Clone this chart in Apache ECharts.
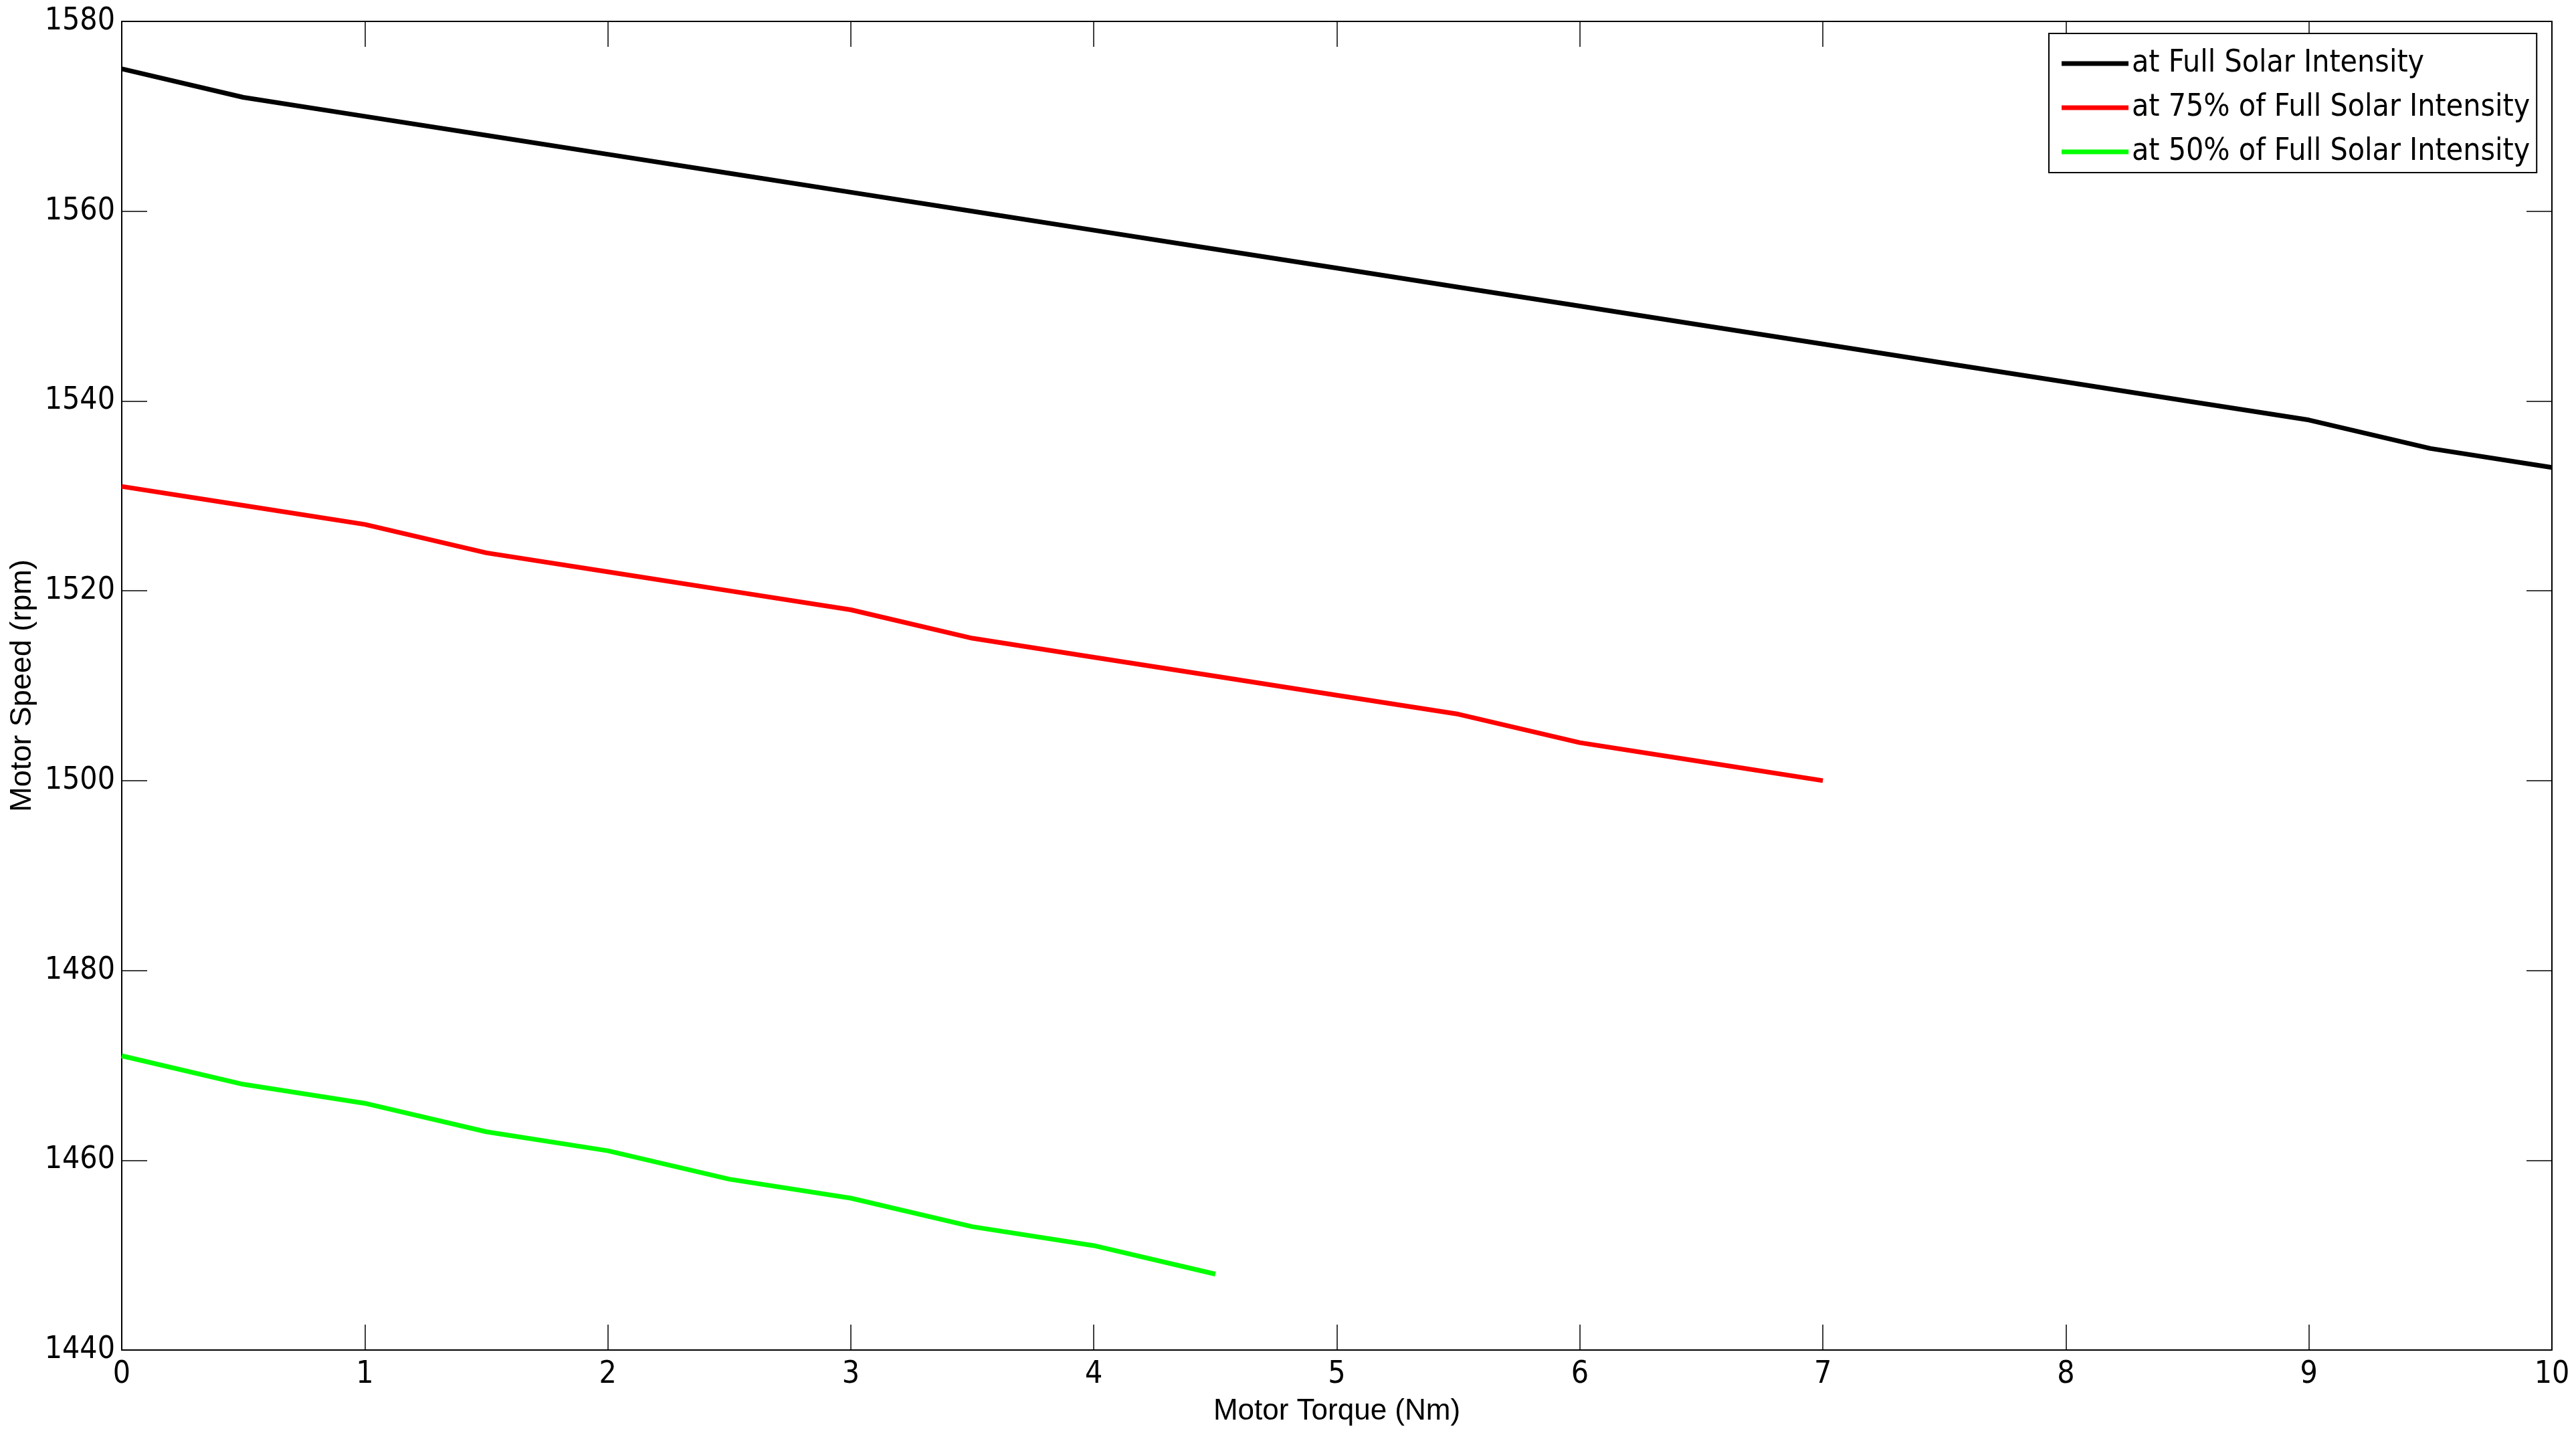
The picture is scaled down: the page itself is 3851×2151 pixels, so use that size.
<!DOCTYPE html>
<html>
<head>
<meta charset="utf-8">
<title>Motor Speed vs Motor Torque</title>
<script src="https://cdn.jsdelivr.net/npm/echarts@6/dist/echarts.min.js"></script>
<style>
  html, body { margin: 0; padding: 0; background: #fff; }
  #chart { width: 3851px; height: 2151px; }
</style>
</head>
<body>
<div id="chart"></div>
<script>
// values
var seriesNames = ['at Full Solar Intensity', 'at 75% of Full Solar Intensity', 'at 50% of Full Solar Intensity'];
var seriesColors = ['#000000', '#ff0000', '#00ff00'];

var torqueFull = [0, 0.5, 1, 1.5, 2, 2.5, 3, 3.5, 4, 4.5, 5, 5.5, 6, 6.5, 7, 7.5, 8, 8.5, 9, 9.5, 10];
var speedFull = [1575, 1572, 1570, 1568, 1566, 1564, 1562, 1560, 1558, 1556, 1554, 1552, 1550, 1548, 1546, 1544, 1542, 1540, 1538, 1535, 1533];

var torque75 = [0, 0.5, 1, 1.5, 2, 2.5, 3, 3.5, 4, 4.5, 5, 5.5, 6, 6.5, 7];
var speed75 = [1531, 1529, 1527, 1524, 1522, 1520, 1518, 1515, 1513, 1511, 1509, 1507, 1504, 1502, 1500];

var torque50 = [0, 0.5, 1, 1.5, 2, 2.5, 3, 3.5, 4, 4.5];
var speed50 = [1471, 1468, 1466, 1463, 1461, 1458, 1456, 1453, 1451, 1448];

var xMin = 0, xMax = 10, xStep = 1;
var yMin = 1440, yMax = 1580, yStep = 20;

function pairs(xs, ys) {
  var out = [];
  for (var i = 0; i < xs.length; i++) {
    out.push([xs[i], ys[i]]);
  }
  return out;
}

var tickFont = 'DejaVu Sans Condensed, DejaVu Sans, sans-serif';
var nameFont = 'Liberation Sans, Arial, sans-serif';

function axisBase(extra) {
  var a = {
    type: 'value',
    axisLine: { show: true, onZero: false, lineStyle: { color: '#000', width: 2 } },
    axisTick: { show: true, inside: true, length: 38, lineStyle: { color: '#000', width: 1.5 } },
    splitLine: { show: false }
  };
  for (var k in extra) a[k] = extra[k];
  return a;
}

function plain(v) { return String(v); }

var chart = echarts.init(document.getElementById('chart'), null, { renderer: 'canvas' });

var lineData = [pairs(torqueFull, speedFull), pairs(torque75, speed75), pairs(torque50, speed50)];
var series = [];
for (var i = 0; i < seriesNames.length; i++) {
  series.push({
    name: seriesNames[i],
    type: 'line',
    data: lineData[i],
    showSymbol: false,
    symbol: 'none',
    lineStyle: { color: seriesColors[i], width: 7 },
    itemStyle: { color: seriesColors[i] },
    animation: false
  });
}

chart.setOption({
  animation: false,
  backgroundColor: '#fff',
  grid: { left: 182, right: 36, top: 32, bottom: 133, containLabel: false, outerBoundsMode: 'none' },
  legend: {
    show: true,
    orient: 'vertical',
    left: 3063,
    top: 50,
    icon: 'rect',
    itemWidth: 100,
    itemHeight: 7,
    itemGap: 20,
    padding: [22, 10, 8, 19],
    borderColor: '#000',
    borderWidth: 2,
    backgroundColor: '#fff',
    textStyle: { fontFamily: tickFont, fontSize: 46, color: '#000', padding: [0, 0, 0, 0] },
    data: seriesNames
  },
  xAxis: [
    axisBase({
      min: xMin, max: xMax, interval: xStep, position: 'bottom',
      name: 'Motor Torque (Nm)', nameLocation: 'middle', nameGap: 70,
      nameTextStyle: { fontFamily: nameFont, fontSize: 44, color: '#000' },
      axisLabel: { show: true, margin: 14, fontFamily: tickFont, fontSize: 46, color: '#000', formatter: plain }
    }),
    axisBase({
      min: xMin, max: xMax, interval: xStep, position: 'top',
      axisLabel: { show: false }
    })
  ],
  yAxis: [
    axisBase({
      min: yMin, max: yMax, interval: yStep, position: 'left',
      name: 'Motor Speed (rpm)', nameLocation: 'middle', nameGap: 125,
      nameTextStyle: { fontFamily: nameFont, fontSize: 45, color: '#000' },
      axisLabel: { show: true, margin: 10, fontFamily: tickFont, fontSize: 46, color: '#000', formatter: plain }
    }),
    axisBase({
      min: yMin, max: yMax, interval: yStep, position: 'right',
      axisLabel: { show: false }
    })
  ],
  series: series
});
</script>
</body>
</html>
